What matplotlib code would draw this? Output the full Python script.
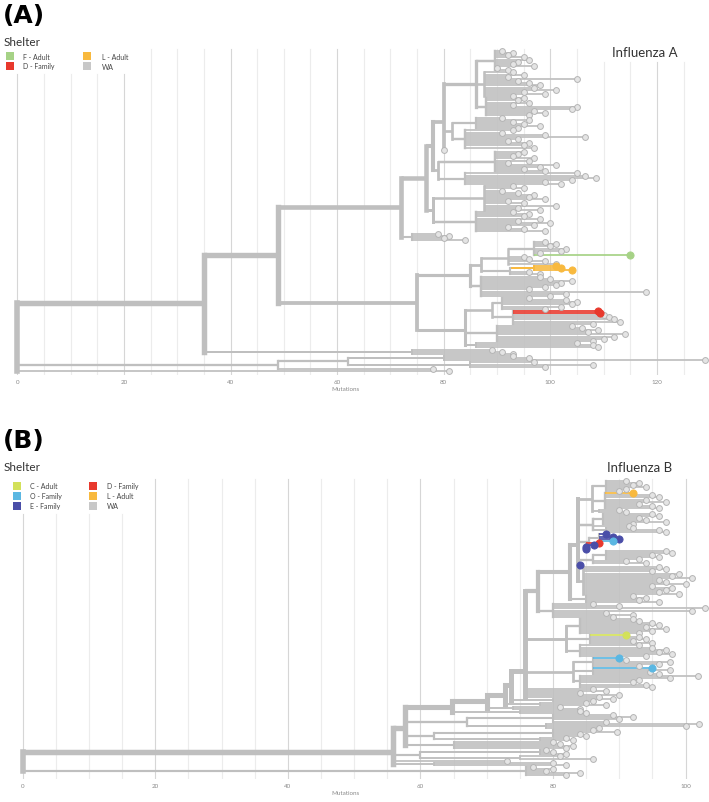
import numpy as np
import matplotlib.pyplot as plt
from matplotlib.patches import Rectangle

plt.rcParams['font.family'] = ['Lato', 'DejaVu Sans']

# tree values: [node mutations, children...]; a tip is a number or (mutations, shelter)
TREE_A = [0,
  [35,
    [49,
      [72,
        [76.7,
          [78,
            [80,
              [86,
                [89.6, 91, 93, 92, 95, 96, 94, 93, 97, 90, 92],
                [87.6, 93, 95, 92, 105, 94, 96, 98, 97, 101, 95, 99, 93],
                [88, 95, 94, 96, 93, 105, 104, 97, 99, 96]],
              [81.5,
                [86, 91, 96, 93, 95, 98, 94],
                [84, 93, 91, 99, 106.5, 94, 92, 96, 95, 97]],
              80],
            [79,
              [89.6, 95, 94, 93, 97, 96, 92, 101, 98, 95, 99],
              [84, 105, 106.5, 108.6, 104, 99, 102]]],
          [78,
            [87.5, 93, 95, 91, 94, 97, 96, 99, 92, 95, 101, 94, 98],
            [86, 93, 96, 95, 98, 94, 100, 97, 92, 95, 99]]],
        [74, 79, 81, 80, 84]],
      [75,
        [85,
          [87,
            [92, [97, 99, 101, 100, 103, 102, 98, (115, 'F')], 95, 96, 99, 101],
            [92.5, [97, (101, 'L'), (102, 'L'), (104, 'L')], 96, 98]],
          [87, 98, 100, 104, 102, 101, 99, 96, 118, 103, 100]],
        [84,
          [89,
            [91, 96, 103, 105, 104, 102, 99],
            [93, (109, 'D'), (109.3, 'D'), 110, 111, 112, 113, 108]],
          [90, 104, 106, 109, 107, 114, 112, 110, 108],
          [86, 105, 108, 109]]]],
    [72, [74, 89, 91, 93]]],
  [49, [62, [80, 93, 96, 129], [85, 97, 108, 99]], 78],
  81]

T1 = [85.9, [88, 91, 93, 92, 94, 91, 90], [87.9, (92, 'L'), 95, 96, 94, 97, 93, 95, 96], [87, 90, 91]]
T2A = [86, [87.6, 95, 96, 93, 94, 97, 92], 91.5, [88, 92, 96, 97]]
T2B = [85.5, [87, (88, 'E'), (89, 'E'), (90, 'E'), (89, 'O')],
       [85, (87, 'D'), (86.2, 'E'), (85, 'E'), (85, 'E')]]
T2C = [86, [88, 97, 98, 95, 96, 93], 91, 94]
T3A = [84.6, 96, 97, 95, 99, 98, 101, 96, 97, 100, 95, 98, 97, 96, 99]
T3B = [85, 92, 94, 93, 96]
T4 = [80, 86, 90, 103, 101, 88, 92, 89]
T5A = [82, [84, 92, 93, 95, 96, 94, 97, 95, 93], [85.6, (91, 'C'), 93, 94, 92, 95],
       [84, 93, 95, 97, 96, 98, 94]]
T5B = [83, [86, (90, 'O'), 91, 97.6, 96, 93], [86, (95, 'O'), 97.6, 94.6, 96],
       [84, 101.9, 97.6, 93, 92, 94, 95]]
T6 = [67, [80, 89, 92, 90, 88], [79, 102, 100, 87]]
T7A = [62, [80, 86, 89.6, 84, 85], [78, 82, 83]]
T7B = [65, 80, 81, 83, 82]
T8A = [60, [78, 79, 80, 82], [75, 81, 86]]
T8C = [62, 80, 82]

N838 = [83.8, T1, T2A, T2B, T2C, (84, 'E'), T3A]
N758 = [75.8, [77.7, [82.6, N838, T3B], T4], T5A, T5B, 86, 88, 84, 90, 87]
TREE_B = [0,
  [55.9,
    [57.7,
      [64.8,
        [70,
          [72.8,
            [73.6, N758, [80, 89, 86]],
            [78, 85, 88]],
          [74, 81, 84]],
        [75, 84, 85]],
      T6, T7A, T7B],
    T8A, 73, T8C],
  [76, 77, 80, 79, 84, 82]]

LEGEND_A = ['F - Adult', 'D - Family', 'L - Adult', 'WA']
KEYS_A = ['F', 'D', 'L', 'WA']
LEGEND_B = ['C - Adult', 'O - Family', 'E - Family', 'D - Family', 'L - Adult', 'WA']
KEYS_B = ['C', 'O', 'E', 'D', 'L', 'WA']
TICKS_A = [0, 20, 40, 60, 80, 100, 120]
TICKS_B = [0, 20, 40, 60, 80, 100]

COLORS = {'F': '#a6d286', 'D': '#e8392d', 'L': '#f8b93e', 'WA': '#c8c8c8',
          'C': '#d3e15a', 'O': '#5bb7e2', 'E': '#4a4ea8'}
GREY = '#bfbfbf'

W, H = 709, 803
fig = plt.figure(figsize=(W / 100, H / 100), dpi=100)


def tips_of(node):
    if not isinstance(node, list):
        return [node]
    out = []
    for c in node[1:]:
        out += tips_of(c)
    return out


def key_of(tip):
    return tip[1] if isinstance(tip, tuple) else 'WA'


def x_of(tip):
    return tip[0] if isinstance(tip, tuple) else tip


def draw_tree(ax, tree, y_top, y_bot):
    n_total = len(tips_of(tree))
    step = (y_bot - y_top) / (n_total - 1)
    count = [0]
    pts = []

    def lw(n):
        return 1.0 + 3.0 * np.sqrt(n / n_total)

    def walk(node, px):
        if not isinstance(node, list):
            y = y_top + count[0] * step
            count[0] += 1
            k = key_of(node)
            c = COLORS[k] if k != 'WA' else GREY
            ax.plot([px, x_of(node)], [y, y], color=c, lw=lw(1),
                    solid_capstyle='butt', zorder=3 if k != 'WA' else 2)
            pts.append((x_of(node), y, k))
            return y
        x = node[0]
        ys = [walk(c, x) for c in node[1:]]
        y = np.mean(ys)
        tips = tips_of(node)
        ks = set(key_of(t) for t in tips)
        c = COLORS[ks.pop()] if len(ks) == 1 and 'WA' not in ks else GREY
        w = lw(len(tips))
        ax.plot([x, x], [ys[0], ys[-1]], color=c, lw=w,
                solid_capstyle='projecting', zorder=2)
        if px is not None:
            ax.plot([px, x], [y, y], color=c, lw=w, solid_capstyle='butt', zorder=2)
        return y

    walk(tree, None)
    for x, y, k in pts:
        if k == 'WA':
            ax.plot(x, y, 'o', ms=4.2, mfc='#e4e4e4', mec='#b4b4b4', mew=0.7, zorder=4)
    for x, y, k in pts:
        if k != 'WA':
            ax.plot(x, y, 'o', ms=5.2, mfc=COLORS[k], mec=COLORS[k], mew=0.6, zorder=5)


def panel(top, bot, x0, scale, tree, y_top, y_bot, ticks, grid_rules):
    ax = fig.add_axes([0, 1 - bot / H, 1, (bot - top) / H])
    ax.set_xlim(-x0 / scale, (W - x0) / scale)
    ax.set_ylim(bot, top)
    ax.patch.set_alpha(0)
    for s in ax.spines.values():
        s.set_visible(False)
    ax.set_yticks([])
    ax.set_xticks(ticks)
    ax.tick_params(axis='x', length=0, pad=3, labelsize=4.5, labelcolor='#8a8a8a')
    ax.set_xlabel('Mutations', fontsize=4.5, color='#8a8a8a', labelpad=1)
    ax.xaxis.set_label_coords(345 / W, -(11) / (bot - top))
    m = 0
    while x0 + m * scale < W:
        px = x0 + m * scale
        g0 = grid_rules(px)
        ax.plot([m, m], [g0, bot - 1], color='#d6d6d6' if m % 20 == 0 else '#ececec',
                lw=0.8, zorder=1)
        m += 5
    draw_tree(ax, tree, y_top, y_bot)
    return ax


def rule_a(px):
    if px < 135:
        return 75
    if 600 < px < 690:
        return 63
    return 50


def rule_b(px):
    return 515 if px < 150 else 480


panel(40, 376, 17.3, 5.33, TREE_A, 52, 372, TICKS_A, rule_a)
panel(470, 780, 22.6, 6.63, TREE_B, 482, 776, TICKS_B, rule_b)


def ftext(x, y, s, **kw):
    fig.text(x / W, 1 - y / H, s, va='center', **kw)


def legend(labels, keys, rows, x_patch, x_text, y0, dy, size):
    for i, (lab, k) in enumerate(zip(labels, keys)):
        col, row = divmod(i, rows)
        yy = y0 + row * dy
        fig.add_artist(Rectangle((x_patch[col] / W, 1 - (yy + size / 2) / H), size / W, size / H,
                                 transform=fig.transFigure, color=COLORS[k], lw=0))
        ftext(x_text[col], yy, lab, fontsize=5, color='#444444')


ftext(3, 16, '(A)', fontsize=18, fontweight='bold', color='black', family='DejaVu Sans')
ftext(4, 42, 'Shelter', fontsize=8.5, color='#333333')
legend(LEGEND_A, KEYS_A, 2, [6, 83], [23, 102], 57, 10, 8)
ftext(645, 53, 'Influenza A', fontsize=9.5, color='#333333', ha='center')

ftext(3, 441, '(B)', fontsize=18, fontweight='bold', color='black', family='DejaVu Sans')
ftext(4, 468, 'Shelter', fontsize=8.5, color='#333333')
legend(LEGEND_B, KEYS_B, 3, [13, 89], [30, 107], 487, 10, 8)
ftext(640, 468, 'Influenza B', fontsize=9.5, color='#333333', ha='center')

fig.savefig('out.png', dpi=100)
